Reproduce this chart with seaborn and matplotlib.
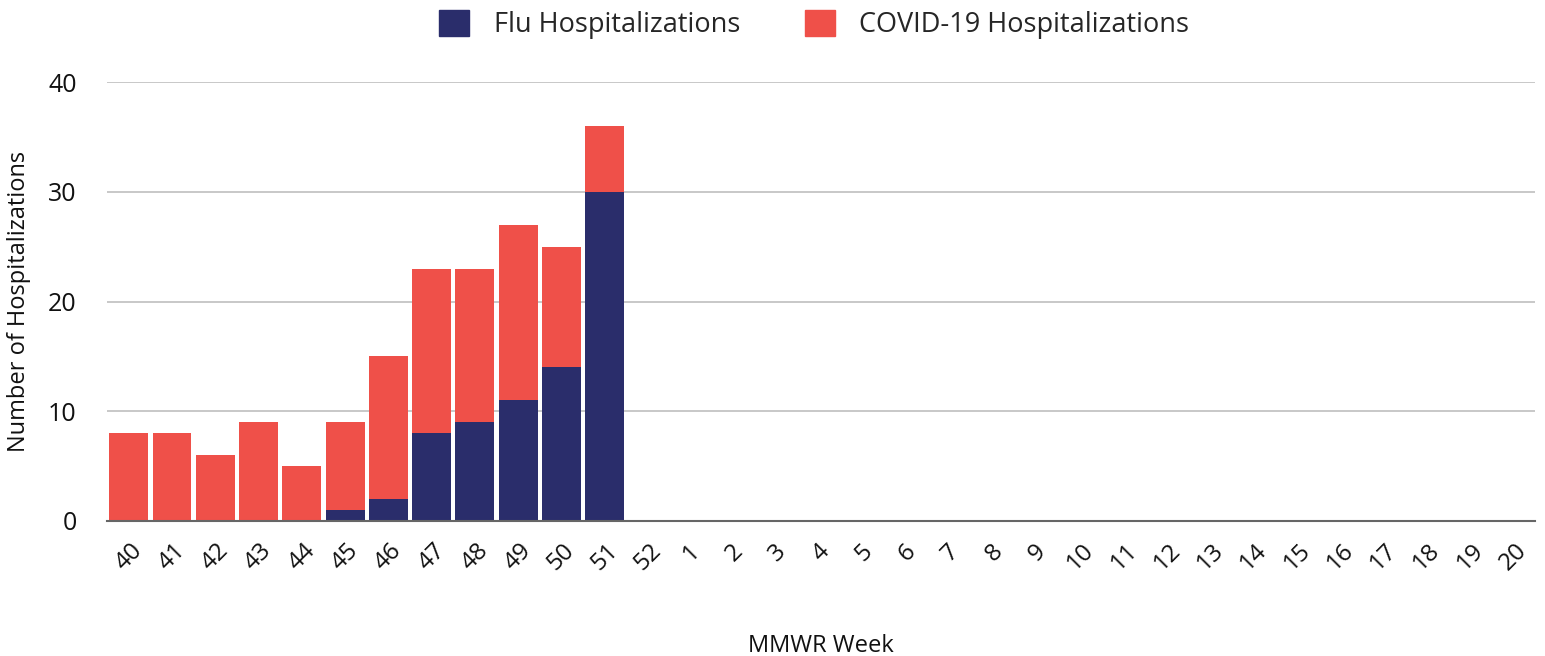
import matplotlib
matplotlib.use("Agg")
import matplotlib.pyplot as plt
import seaborn as sns
import pandas as pd
from matplotlib.patches import Patch

weeks = ["40", "41", "42", "43", "44", "45", "46", "47", "48", "49", "50", "51", "52",
         "1", "2", "3", "4", "5", "6", "7", "8", "9", "10", "11", "12", "13", "14",
         "15", "16", "17", "18", "19", "20"]
flu = [0, 0, 0, 0, 0, 1, 2, 8, 9, 11, 14, 30] + [0] * 21
covid = [8, 8, 6, 9, 5, 8, 13, 15, 14, 16, 11, 6] + [0] * 21

FLU_C = "#2a2d6b"
COVID_C = "#ef5049"

sns.set_theme(style="white")
plt.rcParams["font.family"] = ["Open Sans", "DejaVu Sans"]

df = pd.DataFrame({"week": weeks, "flu": flu, "covid": covid})
df["total"] = df["flu"] + df["covid"]

fig = plt.figure(figsize=(15.45, 6.56), dpi=100)
ax = fig.add_axes([0.0693, 0.2058, 0.9242, 0.669])

sns.barplot(data=df, x="week", y="total", order=weeks, color=COVID_C,
            width=0.9, saturation=1, linewidth=0, ax=ax, zorder=2)
sns.barplot(data=df, x="week", y="flu", order=weeks, color=FLU_C,
            width=0.9, saturation=1, linewidth=0, ax=ax, zorder=3)

ax.set_xlim(-0.5, len(weeks) - 0.5)
ax.set_ylim(0, 40)
ax.set_yticks([0, 10, 20, 30, 40])
ax.yaxis.grid(True, color="#c4c4c4", linewidth=1.3, zorder=0)
ax.set_axisbelow(True)
for s in ["top", "right", "left"]:
    ax.spines[s].set_visible(False)
ax.spines["bottom"].set_color("#666666")
ax.spines["bottom"].set_linewidth(1.5)
ax.spines["bottom"].set_zorder(5)

ax.tick_params(axis="y", labelsize=18, length=0, pad=22, colors="#111111")
ax.tick_params(axis="x", labelsize=17.5, length=0, pad=13, colors="#111111")
for lbl in ax.get_xticklabels():
    lbl.set_rotation(45)
    lbl.set_ha("center")
    lbl.set_va("top")

ax.set_xlabel("MMWR Week", fontsize=17, labelpad=42, color="#111111")
ax.set_ylabel("Number of Hospitalizations", fontsize=17, labelpad=12, color="#111111")

handles = [Patch(facecolor=FLU_C, edgecolor=FLU_C), Patch(facecolor=COVID_C, edgecolor=COVID_C)]
fig.legend(handles, ["Flu Hospitalizations", "COVID-19 Hospitalizations"],
           loc="center", bbox_to_anchor=(0.527, 0.963), ncol=2, frameon=False,
           fontsize=19.5, handlelength=1.1, handleheight=1.1, columnspacing=2.4,
           handletextpad=0.9)

fig.savefig("out.png", dpi=100)
